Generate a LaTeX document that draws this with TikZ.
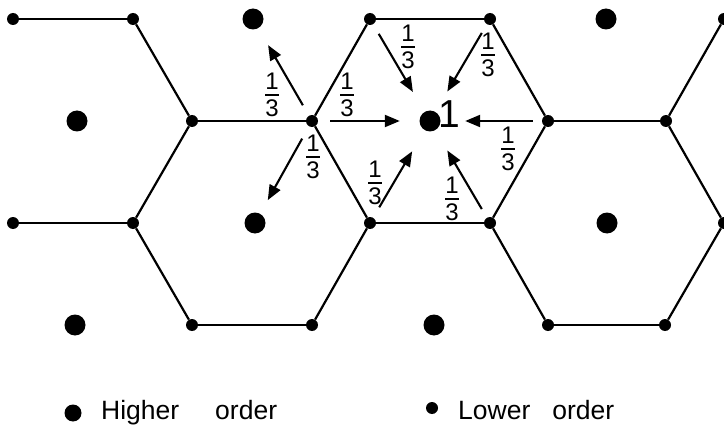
\documentclass[tikz,border=0pt]{standalone}
\usepackage{fontspec}
\setmainfont{Liberation Sans}
\usetikzlibrary{arrows.meta}
\newcommand\thd{\vbox{\offinterlineskip\halign{\hfil##\hfil\cr 1\cr\noalign{\kern4pt\hrule height 1.8pt\kern4pt}3\cr}}}
\begin{document}
\begin{tikzpicture}[x=1pt,y=-1pt,
  lo/.style={circle,fill=black,inner sep=0pt,minimum size=12pt},
  hi/.style={circle,fill=black,inner sep=0pt,minimum size=21pt},
  edge/.style={line width=2.2pt},
  arr/.style={line width=2.1pt,-{Triangle[length=15pt,width=12pt]}},
  frac/.style={inner sep=0pt,font=\fontsize{24}{28}\selectfont},
  legend/.style={anchor=base west,inner sep=0pt,font=\fontsize{26.5}{30}\selectfont}]
\useasboundingbox (0,0) rectangle (724,428);
% lower order (vertices)
\node[lo] (A1) at (13,19) {};
\node[lo] (A2) at (133,19) {};
\node[lo] (A3) at (370,19) {};
\node[lo] (A4) at (490,19) {};
\node[lo] (A5) at (724,19) {};
\node[lo] (B1) at (192,121) {};
\node[lo] (B2) at (312,121) {};
\node[lo] (B3) at (548,121) {};
\node[lo] (B4) at (666,121) {};
\node[lo] (C1) at (13,223) {};
\node[lo] (C2) at (133,223) {};
\node[lo] (C3) at (370,223) {};
\node[lo] (C4) at (490,223) {};
\node[lo] (C5) at (724,223) {};
\node[lo] (D1) at (192,325) {};
\node[lo] (D2) at (312,325) {};
\node[lo] (D3) at (548,325) {};
\node[lo] (D4) at (665,325) {};
% higher order
\node[hi] (H1) at (253,19) {};
\node[hi] (H2) at (606,19) {};
\node[hi] (H3) at (77,121) {};
\node[hi] (H0) at (430,121) {};
\node[hi] (H4) at (255,223) {};
\node[hi] (H5) at (607,223) {};
\node[hi] (H6) at (75,325) {};
\node[hi] (H7) at (434,325) {};
% edges
\draw[edge] (A1) -- (A2);
\draw[edge] (A2) -- (B1);
\draw[edge] (B1) -- (B2);
\draw[edge] (B1) -- (C2);
\draw[edge] (C1) -- (C2);
\draw[edge] (C2) -- (D1);
\draw[edge] (D1) -- (D2);
\draw[edge] (D2) -- (C3);
\draw[edge] (B2) -- (A3);
\draw[edge] (A3) -- (A4);
\draw[edge] (A4) -- (B3);
\draw[edge] (B3) -- (C4);
\draw[edge] (C4) -- (C3);
\draw[edge] (C3) -- (B2);
\draw[edge] (B3) -- (B4);
\draw[edge] (B4) -- (A5);
\draw[edge] (B4) -- (C5);
\draw[edge] (C5) -- (D4);
\draw[edge] (D4) -- (D3);
\draw[edge] (D3) -- (C4);
% arrows
\draw[arr,shorten <=12pt,shorten >=19.5pt] (B2) -- (H1);
\draw[arr,shorten <=14pt,shorten >=15.5pt] (B2) -- (H4);
\draw[arr,shorten <=12pt,shorten >=19.5pt] (B2) -- (H0);
\draw[arr,shorten <=11pt,shorten >=23pt] (A3) -- (H0);
\draw[arr,shorten <=10pt,shorten >=23.5pt] (A4) -- (H0);
\draw[arr,shorten <=9pt,shorten >=24.5pt] (B3) -- (H0);
\draw[arr,shorten <=10pt,shorten >=23.5pt] (C4) -- (H0);
\draw[arr,shorten <=12pt,shorten >=24.5pt] (C3) -- (H0);
% labels
\node[frac] (f1) at (272,95) {\thd};
\node[frac] (f2) at (313,157) {\thd};
\node[frac] (f3) at (347,95) {\thd};
\node[frac] (f4) at (375,183) {\thd};
\node[frac] (f5) at (408,47) {\thd};
\node[frac] (f6) at (488,55) {\thd};
\node[frac] (f7) at (508,149) {\thd};
\node[frac] (f8) at (452,199) {\thd};
\node[inner sep=0pt,font=\fontsize{39}{44}\selectfont] (one) at (449,114) {1};
% legend
\node[hi,minimum size=17pt] (LH) at (73,413) {};
\node[legend] (LHt) at (101,419) {Higher\hspace{36pt}order};
\node[lo] (LL) at (432,408) {};
\node[legend] (LLt) at (458,419) {Lower\hspace{22pt}order};
\end{tikzpicture}
\end{document}
